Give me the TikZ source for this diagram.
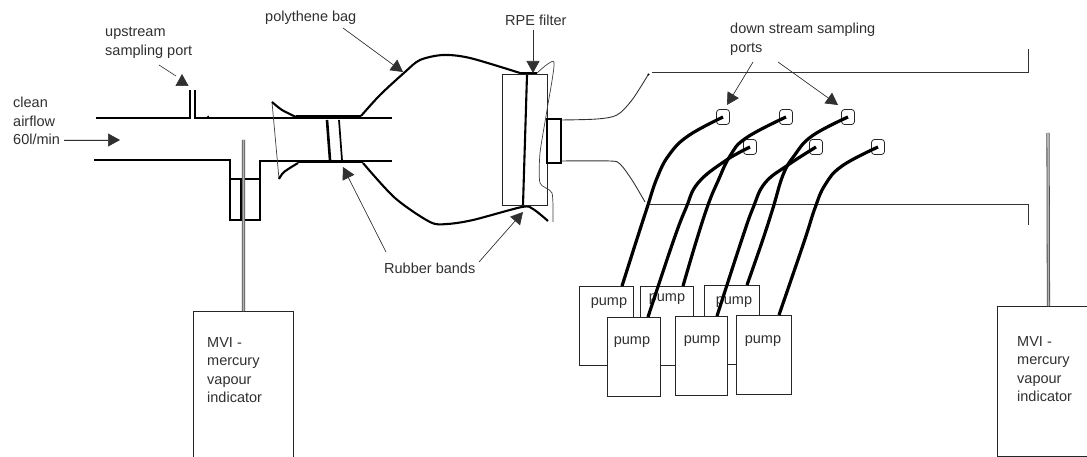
\documentclass[tikz,border=0pt]{standalone}
\usepackage{fontspec}
\setmainfont{Liberation Sans}
\usetikzlibrary{
  arrows.meta,
  calc,
}
\definecolor{inkgray}{HTML}{303030}
\definecolor{rodgray}{HTML}{B4B4B4}
\tikzset{
  tag/.style={
    inner sep=0pt, anchor=west, align=left, text=inkgray,
    font=\fontsize{14.5}{18.6}\selectfont,
  },
  pumpbox/.style={
    rectangle, draw=black!85, line width=0.9pt, fill=white, inner sep=0pt,
    anchor=north west, minimum width=#1, minimum height=79pt,
  },
  mvibox/.style={
    rectangle, draw=black!85, line width=0.9pt, fill=white, inner sep=0pt,
    anchor=north west, minimum width=#1, minimum height=150pt,
  },
  portbox/.style={
    rectangle, rounded corners=3pt, draw=black!85, line width=0.8pt, fill=white,
    inner sep=0pt, minimum width=13pt, minimum height=15pt,
  },
  pipe/.style={line width=1.3pt, draw=black},
  rightpipe/.style={line width=0.9pt, draw=black!80},
  thinwall/.style={line width=0.7pt, draw=black!75},
  thickwall/.style={line width=2.1pt, draw=black},
  band/.style={line width=3pt, draw=black},
  tube/.style={line width=3.2pt, draw=black},
  rod/.style={draw=black!70, line width=0.8pt, double=rodgray, double distance=1.6pt},
  leader/.style={
    -{Triangle[length=12pt,width=13pt]}, line width=0.6pt, draw=inkgray, fill=black,
  },
  plainleader/.style={line width=0.6pt, draw=inkgray},
}
\begin{document}
\begin{tikzpicture}[x=1pt,y=-1pt]
\clip (0,0) rectangle (1087,457);
\fill[white] (0,0) rectangle (1087,457);

% inlet pipe and upstream port
\draw[pipe] (96,118) -- (190,118) -- (190,90);
\draw[pipe] (195,90) -- (195,118) -- (392,118);
\draw[pipe] (94,160) -- (230,160) -- (230,220) -- (260,220) -- (260,161) -- (392,161);
\draw[pipe] (231,179) -- (260,179);
\draw[pipe, line width=1.8pt] (241,179) -- (241,220);
\draw[pipe, line width=1.8pt] (230.5,179) -- (230.5,203);
\fill (208,116.5) circle (1pt);

% bag clamped on the pipe
\draw[thinwall] (272,102) -- (279,179);
\draw[thickwall] plot[smooth] coordinates {(272,102) (282,110) (296,117)};
\draw[thickwall] plot[smooth] coordinates {(279,179) (284,172) (298,163)};
\draw[band] (296,117) -- (361,117);
\draw[band] (298,162) -- (363,162);
\draw[thickwall, line width=2.6pt] (327,120) -- (330,160);
\draw[thickwall, line width=1.7pt] (339,120) -- (342,160);
\draw[thickwall] plot[smooth] coordinates {(361,116) (380,95) (405,72) (420,60) (443,55) (470,58) (520,73)};
\draw[thickwall] plot[smooth] coordinates {(363,163) (395,198) (430,222) (447,224) (473,220) (522,207) (533,209) (548,221)};

% filter
\node[rectangle, draw=black!85, line width=0.9pt, inner sep=0pt, anchor=north west,
      minimum width=45pt, minimum height=131pt] (filter) at (502,74) {};
\draw[band, line width=2.6pt] (519,73) -- (537,73);
\draw[thickwall] (527,75) -- (523,205);
\draw[thinwall] plot[smooth, tension=0.4] coordinates {(537,73) (554,62) (547,110) (540,153) (540,183) (552,193) (553,222)};

% outlet and duct
\draw[pipe] (547,119) -- (561,119) -- (561,163) -- (547,163) -- cycle;
\draw[rightpipe] plot[smooth, tension=0.5] coordinates {(561,120) (597,119) (617,115) (632,100) (648,75)};
\draw[rightpipe] plot[smooth, tension=0.5] coordinates {(561,161) (610,161) (620,164) (632,180) (645,202)};
\draw[rightpipe] (652,72.5) -- (1028,72.5) -- (1028,49);
\draw[rightpipe] (650,204.5) -- (1028,204.5) -- (1028,225);
\fill (648.5,74.5) circle (1.2pt);

% mercury vapour indicators
\node[mvibox=100pt, minimum height=170pt] (mviLeft) at (193,311) {};
\node[mvibox=102pt] (mviRight) at (997,306) {};
\coordinate (rodLeft) at (243.5,140);
\coordinate (rodRight) at (1048,133);
\draw[rod] (rodLeft) -- (mviLeft.north);
\draw[rod] (rodRight) -- (mviRight.north);
\node[tag] (mviLeftText) at (207,370) {MVI -\\mercury\\vapour\\indicator};
\node[tag] (mviRightText) at (1017,369) {MVI -\\mercury\\vapour\\indicator};

% pumps, the back row first
\foreach \name/\x/\y/\w/\tx/\ty in {%
  pumpA/579/286/54/609/303,%
  pumpB/640/286/53/667/299,%
  pumpC/704/285/55/734/302,%
  pumpD/607/317/53/632/342,%
  pumpE/675/316/52/702/341,%
  pumpF/736/315/55/763/341%
}
{
  \node[pumpbox=\w pt] (\name) at (\x,\y) {};
  \node[tag, anchor=center] (\name text) at (\tx,\ty) {pump};
}

% sampling ports
\foreach \name/\x/\y in {%
  portA/723/117,%
  portB/786/117,%
  portC/848/117,%
  portD/750/147,%
  portE/816/147,%
  portF/878/147%
}
  \node[portbox] (\name) at (\x,\y) {};

% tubes to the pumps
\coordinate (feedA) at ($(pumpA.north west)+(43,0)$);
\coordinate (feedB) at ($(pumpB.north west)+(43,0)$);
\coordinate (feedC) at ($(pumpC.north west)+(43,0)$);
\coordinate (feedD) at ($(pumpD.north west)+(41,0)$);
\coordinate (feedE) at ($(pumpE.north west)+(42,0)$);
\coordinate (feedF) at ($(pumpF.north west)+(43,0)$);
\draw[tube] plot[smooth, tension=0.7] coordinates {(portA.center) (688,136) (669,155) (657,178) (647,208) (636,242) (feedA)};
\draw[tube] plot[smooth, tension=0.7] coordinates {(portB.center) (746,138) (730,156) (718,181) (708,205) (696,242) (feedB)};
\draw[tube] plot[smooth, tension=0.7] coordinates {(portC.center) (812,136) (794,156) (783,175) (773,208) (762,242) (feedC)};
\draw[tube] plot[smooth, tension=0.7] coordinates {(portD.center) (725,161) (698,183) (686,208) (673,242) (feedD)};
\draw[tube] plot[smooth, tension=0.7] coordinates {(portE.center) (788,165) (765,183) (753,208) (741,242) (feedE)};
\draw[tube] plot[smooth, tension=0.7] coordinates {(portF.center) (842,166) (825,185) (815,208) (804,242) (feedF)};

% labels
\node[tag] (airflowText) at (13,121) {clean\\airflow\\60l/min};
\node[tag] (upstreamText) at (105,43) {upstream\\sampling port};
\node[tag] (bagText) at (265,18) {polythene bag};
\node[tag] (filterText) at (505,20) {RPE filter};
\node[tag] (bandsText) at (384,268) {Rubber bands};
\node[tag] (downText) at (730,39) {down stream sampling\\ports};

\coordinate (airflowEnd) at (120,140);
\draw[leader] (airflowText.east |- airflowEnd) ++(4,0) -- (airflowEnd);

\coordinate (upstreamStart) at (159,65);
\coordinate (upstreamBend) at (176,76);
\coordinate (upstreamBase) at (182,85);
\coordinate (upstreamTip) at (182,74);
\draw[plainleader] (upstreamStart) -- (upstreamBend);
\draw[leader] (upstreamBase) -- (upstreamTip);

\coordinate (bagStart) at (343,28);
\coordinate (bagTip) at (403,72);
\draw[leader] (bagStart) -- (bagTip);

\coordinate (filterStart) at (533,30);
\coordinate (filterTip) at (533,73);
\draw[leader] (filterStart) -- (filterTip);

\coordinate (bandsStartA) at (386,252);
\coordinate (bandsTipA) at (343,167);
\coordinate (bandsStartB) at (479,262);
\coordinate (bandsTipB) at (523,212);
\draw[leader] (bandsStartA) -- (bandsTipA);
\draw[leader] (bandsStartB) -- (bandsTipB);

\coordinate (downStartA) at (753,62);
\coordinate (downTipA) at (727,105);
\coordinate (downStartB) at (778,62);
\coordinate (downTipB) at (838,105);
\draw[leader] (downStartA) -- (downTipA);
\draw[leader] (downStartB) -- (downTipB);

\end{tikzpicture}
\end{document}
